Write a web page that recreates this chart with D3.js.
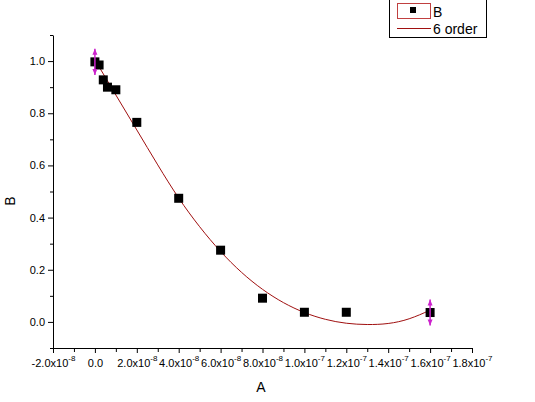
<!DOCTYPE html>
<html>
<head>
<meta charset="utf-8">
<script src="https://cdn.jsdelivr.net/npm/d3@7"></script>
<style>
  body { margin: 0; background: #fff; }
  svg { display: block; font-family: "Liberation Sans", Arial, sans-serif; }
</style>
</head>
<body>
<script>
// measured points (A, B)
var xValues = [0, 2e-9, 4e-9, 6e-9, 1e-8, 2e-8, 4e-8, 6e-8, 8e-8, 1e-7, 1.2e-7, 1.6e-7];
var yValues = [0.997, 0.985, 0.928, 0.900, 0.890, 0.765, 0.474, 0.275, 0.091, 0.037, 0.037, 0.036];
// error bars only on first and last point
var errIndex = [0, 11];
var errValues = [0.05, 0.05];

// 6 order fit curve
var fitX = [0, 1e-8, 2e-8, 3e-8, 4e-8, 5e-8, 6e-8, 7e-8, 8e-8, 9e-8, 1e-7, 1.1e-7, 1.2e-7, 1.3e-7, 1.4e-7, 1.5e-7, 1.6e-7];
var fitY = [1.005, 0.870, 0.736, 0.602, 0.475, 0.365, 0.270, 0.190, 0.125, 0.074, 0.036, 0.010, -0.005, -0.010, -0.006, 0.012, 0.045];

// ticks
var xMajor = [-2e-8, 0, 2e-8, 4e-8, 6e-8, 8e-8, 1e-7, 1.2e-7, 1.4e-7, 1.6e-7, 1.8e-7];
var xMinor = [-1e-8, 1e-8, 3e-8, 5e-8, 7e-8, 9e-8, 1.1e-7, 1.3e-7, 1.5e-7, 1.7e-7];
var yMajor = [0, 0.2, 0.4, 0.6, 0.8, 1.0];
var yMinor = [-0.1, 0.1, 0.3, 0.5, 0.7, 0.9, 1.1];

var width = 535, height = 402;

var x = d3.scaleLinear().domain([-2e-8, 1.8e-7]).range([53, 472]);
var y = d3.scaleLinear().domain([-0.1, 1.1]).range([348, 35]);

var svg = d3.select("body").append("svg")
    .attr("width", width)
    .attr("height", height);

svg.append("rect").attr("width", width).attr("height", height).attr("fill", "#fff");

// x axis
var xAxis = svg.append("g")
    .attr("transform", "translate(0," + y.range()[0] + ")")
    .call(d3.axisBottom(x).tickValues(xMajor).tickSize(5).tickSizeOuter(0).tickFormat(""));
svg.append("g")
    .attr("transform", "translate(0," + y.range()[0] + ")")
    .call(d3.axisBottom(x).tickValues(xMinor).tickSize(4).tickSizeOuter(0).tickFormat(""))
    .select(".domain").remove();

// x tick labels with superscript exponent
xAxis.selectAll(".tick").each(function(d) {
  var t = d3.select(this).append("text")
      .attr("fill", "#000")
      .attr("y", 19)
      .attr("text-anchor", "middle")
      .style("font-size", "11px");
  if (d === 0) { t.text("0.0"); return; }
  var e = Math.floor(Math.log10(Math.abs(d)) + 1e-9);
  var m = d / Math.pow(10, e);
  t.append("tspan").text(m.toFixed(1) + "x10");
  t.append("tspan").attr("dy", -6).style("font-size", "8px").text(e);
});

// y axis
svg.append("g")
    .attr("transform", "translate(" + x.range()[0] + ",0)")
    .call(d3.axisLeft(y).tickValues(yMajor).tickSize(5).tickSizeOuter(0).tickFormat(d3.format(".1f")))
    .selectAll("text").style("font-size", "11px").attr("x", -8);
svg.append("g")
    .attr("transform", "translate(" + x.range()[0] + ",0)")
    .call(d3.axisLeft(y).tickValues(yMinor).tickSize(3).tickSizeOuter(0).tickFormat(""))
    .select(".domain").remove();

svg.selectAll(".domain, .tick line").attr("stroke", "#000");

// axis titles
svg.append("text")
    .attr("x", 261).attr("y", 392)
    .attr("text-anchor", "middle")
    .style("font-size", "14px")
    .text("A");
svg.append("text")
    .attr("transform", "translate(15,201) rotate(-90)")
    .attr("text-anchor", "middle")
    .style("font-size", "14px")
    .text("B");

// fit curve
var pts = fitX.map(function(v, i) { return [v, fitY[i]]; });
var line = d3.line()
    .x(function(d) { return x(d[0]); })
    .y(function(d) { return y(d[1]); })
    .curve(d3.curveNatural);
svg.append("path")
    .attr("d", line(pts))
    .attr("fill", "none")
    .attr("stroke", "#a01010")
    .attr("stroke-width", 1);

// points
var data = xValues.map(function(v, i) { return {x: v, y: yValues[i]}; });
svg.selectAll(".pt")
    .data(data)
  .enter().append("rect")
    .attr("class", "pt")
    .attr("x", function(d) { return x(d.x) - 4.5; })
    .attr("y", function(d) { return y(d.y) - 4.5; })
    .attr("width", 9)
    .attr("height", 9)
    .attr("fill", "#000");

// error bars with arrow heads
var errs = errIndex.map(function(k, i) { return {x: xValues[k], y: yValues[k], e: errValues[i]}; });
var eg = svg.selectAll(".err").data(errs).enter().append("g").attr("class", "err");
eg.append("line")
    .attr("x1", function(d) { return x(d.x); })
    .attr("x2", function(d) { return x(d.x); })
    .attr("y1", function(d) { return y(d.y + d.e); })
    .attr("y2", function(d) { return y(d.y - d.e); })
    .attr("stroke", "#cc22cc")
    .attr("stroke-width", 1.5);
eg.append("path")
    .attr("d", function(d) {
      var cx = x(d.x), t = y(d.y + d.e), b = y(d.y - d.e);
      return "M" + cx + "," + t + "l-2.5,6h5z" + "M" + cx + "," + b + "l-2.5,-6h5z";
    })
    .attr("fill", "#cc22cc");

// legend
var lg = svg.append("g");
lg.append("rect")
    .attr("x", 389.5).attr("y", -0.5).attr("width", 97).attr("height", 38)
    .attr("fill", "#fff").attr("stroke", "#000");
lg.append("rect")
    .attr("x", 397.5).attr("y", 3.5).attr("width", 33).attr("height", 15)
    .attr("fill", "none").attr("stroke", "#c04040");
lg.append("rect")
    .attr("x", 410).attr("y", 7).attr("width", 6).attr("height", 6)
    .attr("fill", "#000");
lg.append("text").attr("x", 433).attr("y", 17).style("font-size", "14px").text("B");
lg.append("line")
    .attr("x1", 397).attr("x2", 431).attr("y1", 28.5).attr("y2", 28.5)
    .attr("stroke", "#a01010");
lg.append("text").attr("x", 433).attr("y", 34).style("font-size", "14px").text("6 order");
</script>
</body>
</html>
